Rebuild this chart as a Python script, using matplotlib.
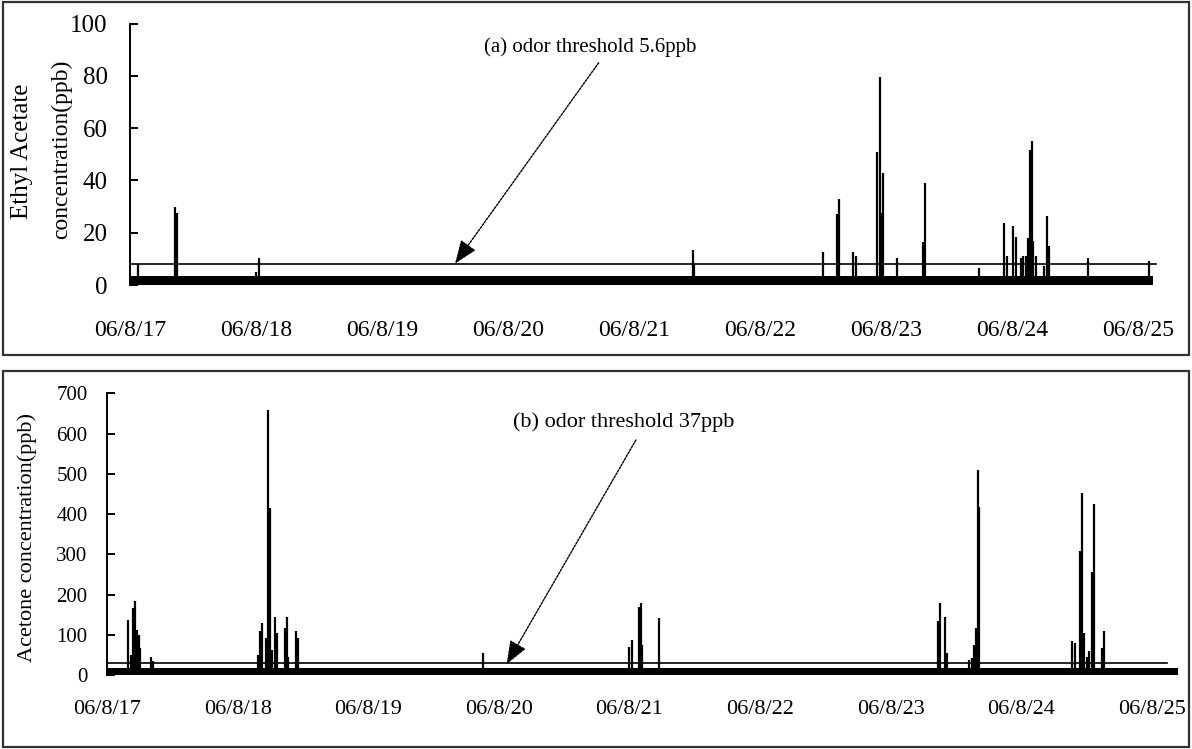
import matplotlib
matplotlib.use('Agg')
matplotlib.rcParams.update({'font.family': 'Liberation Serif', 'font.size': 16})
import matplotlib.pyplot as plt
from matplotlib.patches import Rectangle

# dates on the x axis, data time measured in days from 06/8/17 00:00
day_labels = ['06/8/17', '06/8/18', '06/8/19', '06/8/20', '06/8/21',
              '06/8/22', '06/8/23', '06/8/24', '06/8/25']

# (a) ethyl acetate
ea_base_t = [0.0, 1.0, 2.0, 3.0, 4.0, 5.0, 6.0, 7.0, 8.12]
ea_base_v = [3.4, 3.3, 3.4, 3.3, 3.4, 3.4, 3.5, 3.6, 3.4]
ea_spike_t = [0.065, 0.36, 0.375, 1.00, 1.02, 4.47, 4.48, 5.50, 5.61, 5.63,
              5.74, 5.76, 5.93, 5.95, 5.96, 5.98, 6.09, 6.29, 6.31, 6.74,
              6.94, 6.96, 7.01, 7.03, 7.07, 7.09, 7.11, 7.13, 7.14, 7.16,
              7.17, 7.19, 7.25, 7.28, 7.29, 7.60, 8.09]
ea_spike_v = [8.0, 30.0, 27.5, 5.0, 10.5, 13.4, 8.0, 12.7, 27.0, 33.0,
              12.7, 11.0, 51.0, 79.5, 27.5, 43.0, 10.5, 16.6, 39.0, 6.6,
              23.6, 11.0, 22.6, 18.3, 10.5, 11.0, 11.0, 18.0, 51.7, 55.0,
              17.0, 11.0, 7.4, 26.4, 15.0, 10.5, 9.0]
ea_threshold = 8.0
ea_end = 8.14

# (b) acetone
ac_base_t = [0.0, 1.0, 2.0, 3.0, 4.0, 5.0, 6.0, 7.0, 8.20]
ac_base_v = [17.0, 17.0, 17.0, 17.0, 17.0, 17.0, 17.0, 17.0, 17.0]
ac_spike_t = [0.16, 0.185, 0.20, 0.215, 0.23, 0.245, 0.255, 0.335, 0.35,
              1.16, 1.175, 1.19, 1.22, 1.235, 1.245, 1.26, 1.29, 1.305,
              1.36, 1.375, 1.385, 1.45, 1.465,
              2.88, 4.00, 4.02, 4.07, 4.085, 4.10, 4.23,
              6.36, 6.375, 6.42, 6.43,
              6.60, 6.62, 6.635, 6.655, 6.67, 6.68,
              7.39, 7.41, 7.45, 7.465, 7.48, 7.50, 7.52, 7.545, 7.555,
              7.62, 7.635]
ac_spike_v = [137, 50, 166, 183, 112, 100, 67, 45, 35,
              50, 109, 129, 92, 659, 415, 62, 145, 104,
              117, 145, 45, 109, 92,
              55, 70, 87, 169, 179, 75, 142,
              134, 179, 144, 55,
              37, 42, 75, 117, 509, 417,
              84, 80, 308, 452, 104, 45, 60, 256, 425,
              67, 109]
ac_threshold = 30.0
ac_end = 8.12

fig = plt.figure(figsize=(11.92, 7.49), dpi=100)

# frames round each panel
for y0, h in [(1 - 355 / 749., 353 / 749.), (1 - 747 / 749., 376 / 749.)]:
    fig.patches.append(Rectangle((3 / 1192., y0), 1186 / 1192., h, transform=fig.transFigure,
                                 fill=False, edgecolor='#333333', lw=1.6))

ax1 = fig.add_axes([130 / 1192., 1 - 285 / 749., 126 * 8.2 / 1192., 261.5 / 749.])
ax2 = fig.add_axes([107 / 1192., 1 - 675 / 749., 130.6 * 8.25 / 1192., 281.7 / 749.])

panels = [
    (ax1, ea_base_t, ea_base_v, ea_spike_t, ea_spike_v, ea_threshold, ea_end, (0, 100), range(0, 101, 20), 8.2),
    (ax2, ac_base_t, ac_base_v, ac_spike_t, ac_spike_v, ac_threshold, ac_end, (0, 700), range(0, 701, 100), 8.25),
]
for ax, bt, bv, st, sv, thr, end, ylim, yt, xmax in panels:
    ax.fill_between(bt, 0, bv, step='mid', color='black', lw=0)
    ax.vlines(st, 0, sv, colors='black', lw=1.6)
    ax.plot([0, end], [thr, thr], color='black', lw=1.2)
    ax.set_xlim(0, xmax)
    ax.set_ylim(*ylim)
    ax.set_yticks(list(yt))
    ax.set_xticks(range(len(day_labels)))
    ax.set_xticklabels(day_labels)
    for s in ['top', 'right', 'bottom']:
        ax.spines[s].set_visible(False)
    ax.spines['left'].set_linewidth(1.4)
    ax.tick_params(axis='x', length=0)
    ax.tick_params(axis='y', direction='in', length=6, width=1.4)

ax1.tick_params(axis='x', labelsize=17, pad=25)
ax1.tick_params(axis='y', labelsize=18, pad=16)
ax2.tick_params(axis='x', labelsize=16, pad=18)
ax2.tick_params(axis='y', labelsize=15, pad=14)

fig.text(22 / 1192., 1 - 151 / 749., 'Ethyl Acetate', rotation=90, ha='center', va='center', fontsize=18)
fig.text(62 / 1192., 1 - 149 / 749., 'concentration(ppb)', rotation=90, ha='center', va='center', fontsize=17)
fig.text(27 / 1192., 1 - 537 / 749., 'Acetone concentration(ppb)', rotation=90, ha='center', va='center', fontsize=16)

# annotations
ax1.text(3.65, 91, '(a) odor threshold 5.6ppb', ha='center', va='center', fontsize=15)
ax1.annotate('', xy=(2.58, 8.2), xytext=(3.72, 85),
             arrowprops=dict(arrowstyle='-|>,head_length=0.9,head_width=0.35', color='black',
                             lw=1, ls=(0, (1.5, 1)), shrinkA=0, shrinkB=0))
ax2.text(3.96, 629, '(b) odor threshold 37ppb', ha='center', va='center', fontsize=16)
ax2.annotate('', xy=(3.06, 27), xytext=(4.05, 584),
             arrowprops=dict(arrowstyle='-|>,head_length=0.9,head_width=0.35', color='black',
                             lw=1, ls=(0, (1.5, 1)), shrinkA=0, shrinkB=0))

plt.savefig('out.png', dpi=100)
